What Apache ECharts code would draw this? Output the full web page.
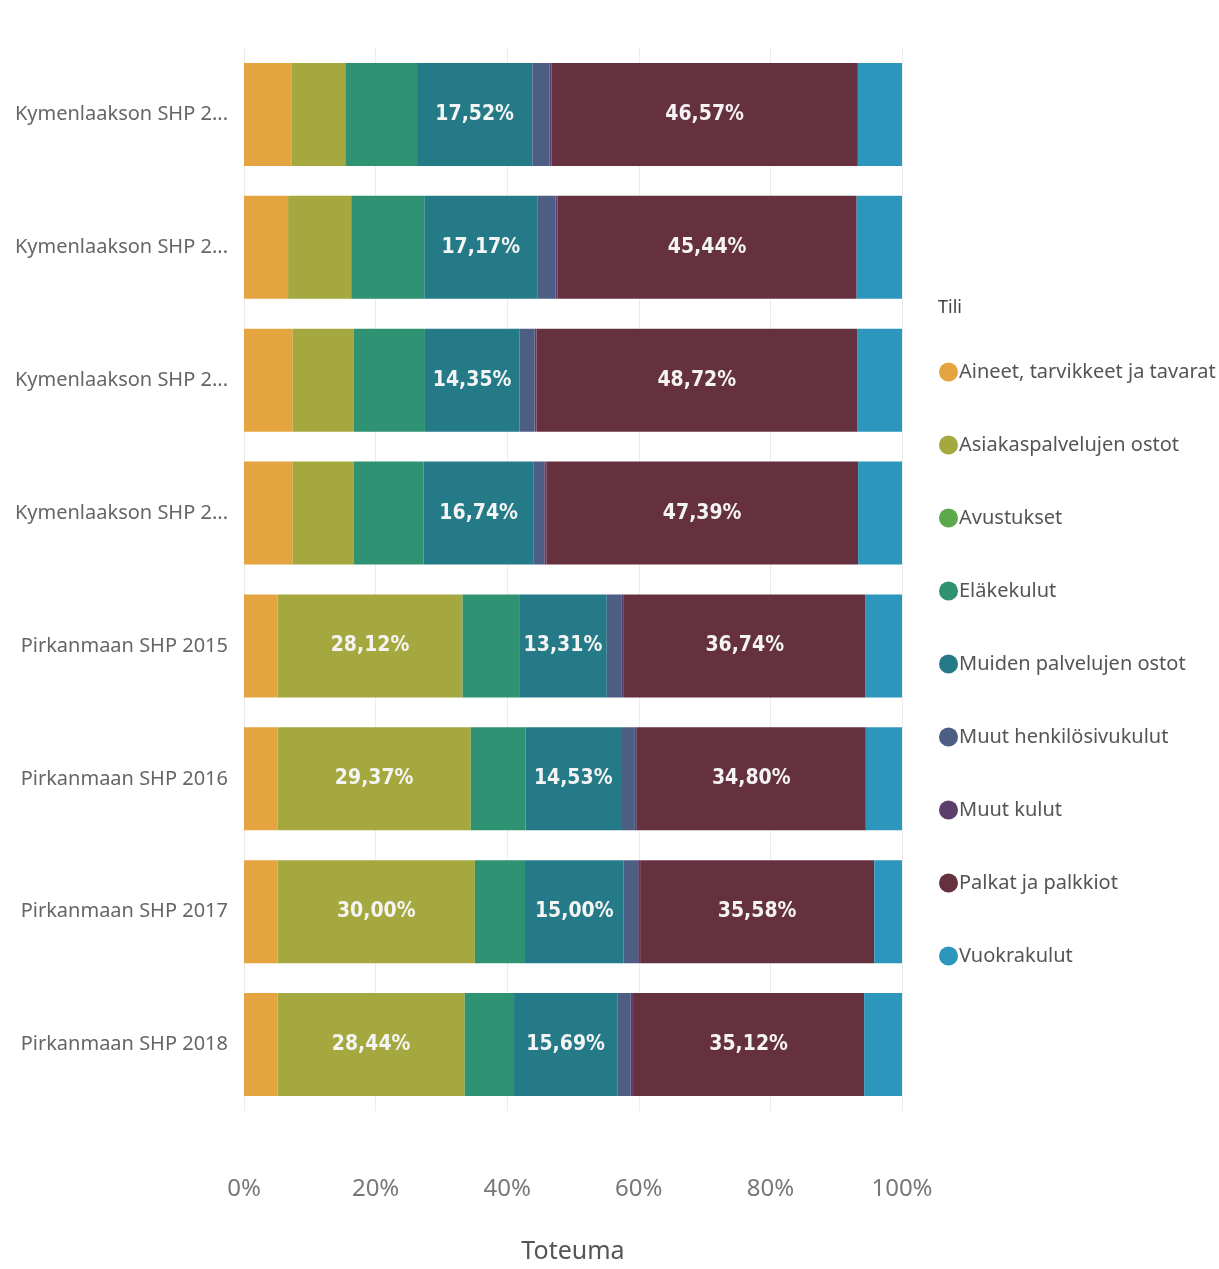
<!DOCTYPE html>
<html>
<head>
<meta charset="utf-8">
<script src="https://cdn.jsdelivr.net/npm/echarts@6/dist/echarts.min.js"></script>
<style>
html,body{margin:0;padding:0;background:#fff;}
#chart{width:1219px;height:1269px;}
</style>
</head>
<body>
<div id="chart"></div>
<script>
var categories = ["Kymenlaakson SHP 2015","Kymenlaakson SHP 2016","Kymenlaakson SHP 2017","Kymenlaakson SHP 2018","Pirkanmaan SHP 2015","Pirkanmaan SHP 2016","Pirkanmaan SHP 2017","Pirkanmaan SHP 2018"];
var seriesNames = ["Aineet, tarvikkeet ja tavarat","Asiakaspalvelujen ostot","Avustukset","Eläkekulut","Muiden palvelujen ostot","Muut henkilösivukulut","Muut kulut","Palkat ja palkkiot","Vuokrakulut"];
var aineet     = [7.2, 6.7, 7.4, 7.4, 5.1, 5.1, 5.1, 5.1];
var asiakas    = [8.2, 9.6, 9.3, 9.3, 28.12, 29.37, 30.00, 28.44];
var avustukset = [0, 0, 0, 0, 0, 0, 0, 0];
var elake      = [10.9, 11.1, 10.8, 10.6, 8.6, 8.3, 7.6, 7.5];
var muiden     = [17.52, 17.17, 14.35, 16.74, 13.31, 14.53, 15.00, 15.69];
var muutHenk   = [2.6, 2.8, 2.3, 1.6, 2.3, 2.1, 2.2, 2.0];
var muutKulut  = [0.3, 0.3, 0.3, 0.3, 0.3, 0.3, 0.3, 0.4];
var palkat     = [46.57, 45.44, 48.72, 47.39, 36.74, 34.80, 35.58, 35.12];
var vuokra     = [6.71, 6.89, 6.83, 6.67, 5.53, 5.5, 4.22, 5.75];
var xTicks = [0, 20, 40, 60, 80, 100];

var values = [aineet, asiakas, avustukset, elake, muiden, muutHenk, muutKulut, palkat, vuokra];
var colors = ["#E4A43F","#A5A83E","#5DA84B","#2E9273","#257A87","#4C5E84","#5B3E6C","#66313F","#2C96BC"];

var chart = echarts.init(document.getElementById('chart'));
var series = seriesNames.map(function(n, i){
  return {
    name: n,
    type: 'bar',
    stack: 'total',
    barWidth: 103,
    data: values[i],
    itemStyle: {color: colors[i]},
    label: {
      show: true,
      position: 'inside',
      color: '#f4f4f4',
      fontFamily: 'DejaVu Sans Condensed',
      fontWeight: 'bold',
      fontSize: 21,
      formatter: function(p){
        return p.value >= 12 ? p.value.toFixed(2).replace('.', ',') + '%' : '';
      }
    },
    emphasis: {disabled: true}
  };
});

chart.setOption({
  backgroundColor: '#ffffff',
  animation: false,
  color: colors,
  title: {
    text: 'Tili',
    left: 933,
    top: 294,
    textStyle: {fontFamily: 'Noto Sans', fontSize: 18, fontWeight: 'normal', color: '#444'}
  },
  legend: {
    orient: 'vertical',
    left: 934,
    top: 357,
    icon: 'circle',
    itemWidth: 19,
    itemHeight: 19,
    itemGap: 53,
    data: seriesNames,
    textStyle: {fontFamily: 'Noto Sans', fontSize: 20, color: '#555', padding: [0,0,0,-4]}
  },
  grid: {left: 244, right: 317, top: 48, bottom: 158, containLabel: false},
  xAxis: {
    type: 'value',
    min: 0,
    max: 100,
    interval: 20,
    name: 'Toteuma',
    nameLocation: 'middle',
    nameGap: 128,
    nameTextStyle: {fontFamily: 'Noto Sans', fontSize: 25, color: '#555'},
    axisLine: {show: false},
    axisTick: {show: false},
    axisLabel: {
      margin: 66,
      fontFamily: 'Noto Sans',
      fontSize: 24,
      color: '#777',
      formatter: function(v){ return xTicks.indexOf(v) >= 0 ? v + '%' : ''; }
    },
    splitLine: {show: true, lineStyle: {color: '#ececec', width: 1}}
  },
  yAxis: {
    type: 'category',
    inverse: true,
    data: categories,
    axisLine: {show: false},
    axisTick: {show: false},
    axisLabel: {
      margin: 16,
      fontFamily: 'Noto Sans',
      fontSize: 20,
      color: '#666',
      formatter: function(v){ return v.length > 20 ? v.slice(0, 18) + '...' : v; }
    }
  },
  series: series
});
</script>
</body>
</html>
